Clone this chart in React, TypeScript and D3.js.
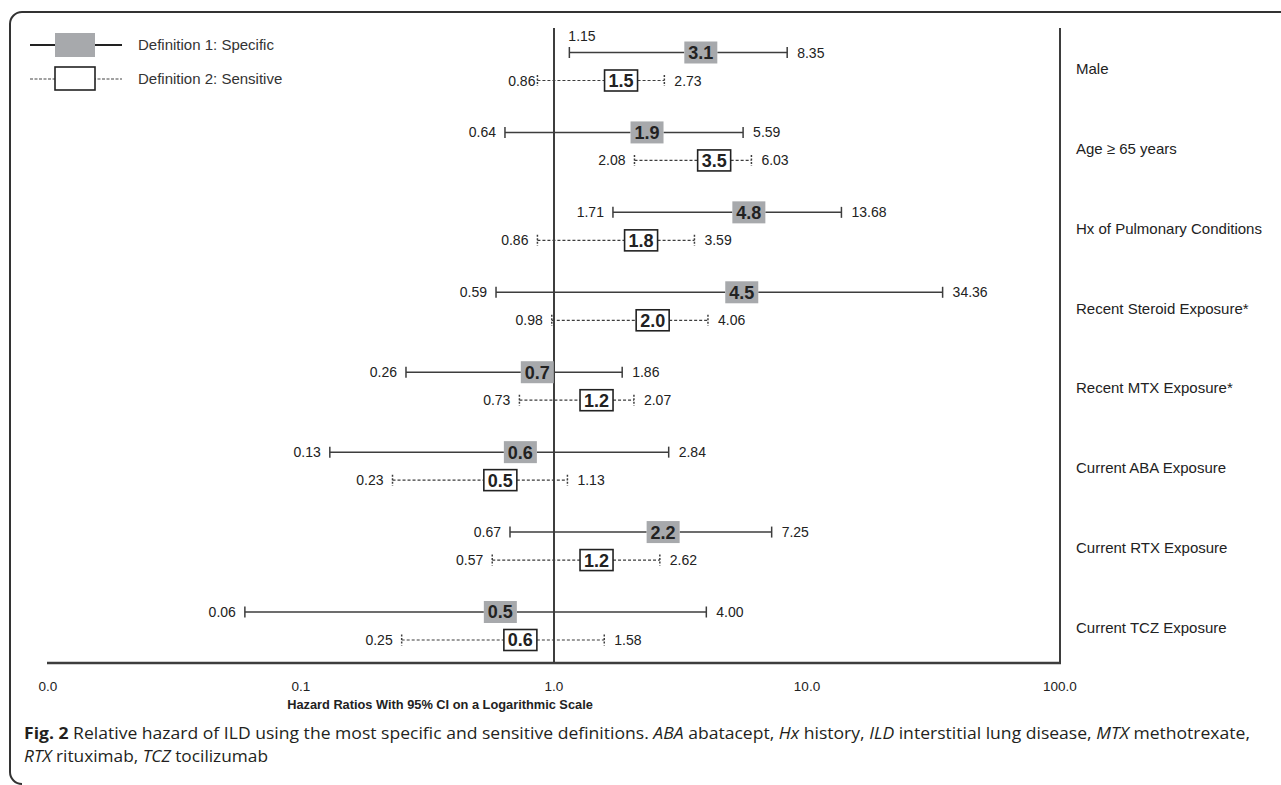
import { useEffect } from 'react';
import * as d3 from 'd3';

const categories = [
  'Male',
  'Age ≥ 65 years',
  'Hx of Pulmonary Conditions',
  'Recent Steroid Exposure*',
  'Recent MTX Exposure*',
  'Current ABA Exposure',
  'Current RTX Exposure',
  'Current TCZ Exposure',
];

// Definition 1: Specific
const specificHR = [3.1, 1.9, 4.8, 4.5, 0.7, 0.6, 2.2, 0.5];
const specificLo = [1.15, 0.64, 1.71, 0.59, 0.26, 0.13, 0.67, 0.06];
const specificHi = [8.35, 5.59, 13.68, 34.36, 1.86, 2.84, 7.25, 4.0];

// Definition 2: Sensitive
const sensitiveHR = [1.5, 3.5, 1.8, 2.0, 1.2, 0.5, 1.2, 0.6];
const sensitiveLo = [0.86, 2.08, 0.86, 0.98, 0.73, 0.23, 0.57, 0.25];
const sensitiveHi = [2.73, 6.03, 3.59, 4.06, 2.07, 1.13, 2.62, 1.58];

const tickValues = [0.01, 0.1, 1, 10, 100];
const tickLabels = ['0.0', '0.1', '1.0', '10.0', '100.0'];

const legendLabels = ['Definition 1: Specific', 'Definition 2: Sensitive'];

const W = 1281;
const H = 785;
const FONT = '"Liberation Sans", Arial, Helvetica, sans-serif';
const LINE = '#3d3d3d';
const GRAY = '#a7a9ac';

const x = d3.scaleLog().domain([0.01, 100]).range([48, 1060]);
const y = d3.scalePoint<string>().domain(categories).range([66.5, 626]);

const AXIS_Y = 663;
const TOP_Y = 28;
const BOX_W = 33;

type Row = { cat: string; hr: number; lo: number; hi: number; kind: 'spec' | 'sens' };

const rows: Row[] = [
  ...categories.map((c, i) => ({ cat: c, hr: specificHR[i], lo: specificLo[i], hi: specificHi[i], kind: 'spec' as const })),
  ...categories.map((c, i) => ({ cat: c, hr: sensitiveHR[i], lo: sensitiveLo[i], hi: sensitiveHi[i], kind: 'sens' as const })),
];

function CIRow({ r }: { r: Row }) {
  const spec = r.kind === 'spec';
  const cy = (y(r.cat) as number) + (spec ? -14 : 14);
  const x0 = x(r.lo);
  const x1 = x(r.hi);
  const bx = x(r.hr) + 6;
  const bh = spec ? 22 : 21;
  const dash = spec ? undefined : '3 2';
  const capDash = spec ? undefined : '2 1.5';
  // a couple of labels sit differently in the original figure
  const loAbove = spec && r.cat === 'Male';
  const loTight = !spec && r.cat === 'Male';
  return (
    <g>
      <line x1={x0} x2={bx} y1={cy} y2={cy} stroke={LINE} strokeWidth={spec ? 1.5 : 1.2} strokeDasharray={dash} />
      <line x1={bx + BOX_W} x2={x1} y1={cy} y2={cy} stroke={LINE} strokeWidth={spec ? 1.5 : 1.2} strokeDasharray={dash} />
      <line x1={x0} x2={x0} y1={cy - 5.5} y2={cy + 5.5} stroke={LINE} strokeWidth={1.5} strokeDasharray={capDash} />
      <line x1={x1} x2={x1} y1={cy - 5.5} y2={cy + 5.5} stroke={LINE} strokeWidth={1.5} strokeDasharray={capDash} />
      <rect
        x={bx}
        y={cy - bh / 2}
        width={BOX_W}
        height={bh}
        fill={spec ? GRAY : '#fff'}
        stroke={spec ? 'none' : '#222'}
        strokeWidth={1.6}
      />
      <text x={bx + BOX_W / 2} y={cy} dy="0.36em" textAnchor="middle" fontSize={18} fontWeight="bold" fill="#222">
        {r.hr.toFixed(1)}
      </text>
      {loAbove ? (
        <text x={x0 - 1} y={cy - 16} dy="0.35em" fontSize={14} fill="#222">
          {r.lo.toFixed(2)}
        </text>
      ) : (
        <text x={x0 - (loTight ? 2 : 9)} y={cy} dy="0.36em" textAnchor="end" fontSize={14} fill="#222">
          {r.lo.toFixed(2)}
        </text>
      )}
      <text x={x1 + 10} y={cy} dy="0.36em" fontSize={14} fill="#222">
        {r.hi.toFixed(2)}
      </text>
    </g>
  );
}

export default function App() {
  useEffect(() => {
    document.body.style.margin = '0';
  }, []);

  return (
    <svg width={W} height={H} style={{ display: 'block', background: '#fff' }} fontFamily={FONT}>
      {/* figure frame */}
      <path d={`M${W},12 H22 A12,12 0 0 0 10,24 V772 A12,12 0 0 0 22,784`} fill="none" stroke="#333" strokeWidth={2} />

      {/* legend */}
      {legendLabels.map((lab, i) => {
        const ly = 45 + i * 34;
        const spec = i === 0;
        return (
          <g key={lab}>
            <line x1={30} x2={122} y1={ly} y2={ly} stroke={spec ? '#222' : '#444'} strokeWidth={spec ? 2 : 1.2} strokeDasharray={spec ? undefined : '3 1.5'} />
            <rect x={55} y={ly - 12} width={40} height={spec ? 24 : 23} fill={spec ? GRAY : '#fff'} stroke={spec ? 'none' : '#222'} strokeWidth={1.6} />
            <text x={138} y={ly} dy="0.35em" fontSize={15} fill="#333">
              {lab}
            </text>
          </g>
        );
      })}

      {/* reference line and right border */}
      <line x1={x(1)} x2={x(1)} y1={TOP_Y} y2={AXIS_Y} stroke={LINE} strokeWidth={2} />
      <line x1={x(100)} x2={x(100)} y1={TOP_Y} y2={AXIS_Y} stroke={LINE} strokeWidth={2} />

      {/* x axis */}
      <line x1={x(0.01) - 1} x2={x(100) + 1} y1={AXIS_Y} y2={AXIS_Y} stroke={LINE} strokeWidth={2.5} />
      {tickValues.map((t, i) => (
        <text key={t} x={x(t)} y={686} dy="0.35em" textAnchor="middle" fontSize={13.5} fill="#222">
          {tickLabels[i]}
        </text>
      ))}
      <text x={440} y={705} dy="0.35em" textAnchor="middle" fontSize={12.8} fontWeight="bold" fill="#222">
        Hazard Ratios With 95% CI on a Logarithmic Scale
      </text>

      {/* rows */}
      {rows.map((r) => (
        <CIRow key={r.kind + r.cat} r={r} />
      ))}

      {/* category labels */}
      {categories.map((c) => (
        <text key={c} x={1076} y={(y(c) as number) + 2} dy="0.35em" fontSize={15} fill="#222">
          {c}
        </text>
      ))}

      {/* caption */}
      <g fontFamily='"Open Sans", "Noto Sans", sans-serif' fontSize={16.5} fill="#231f20">
        <text x={24} y={739} textLength={1226} lengthAdjust="spacingAndGlyphs">
          <tspan fontWeight="bold">Fig. 2</tspan> Relative hazard of ILD using the most specific and sensitive definitions.{' '}
          <tspan fontStyle="italic">ABA</tspan> abatacept, <tspan fontStyle="italic">Hx</tspan> history,{' '}
          <tspan fontStyle="italic">ILD</tspan> interstitial lung disease, <tspan fontStyle="italic">MTX</tspan> methotrexate,
        </text>
        <text x={24} y={762} textLength={244} lengthAdjust="spacingAndGlyphs">
          <tspan fontStyle="italic">RTX</tspan> rituximab, <tspan fontStyle="italic">TCZ</tspan> tocilizumab
        </text>
      </g>
    </svg>
  );
}
